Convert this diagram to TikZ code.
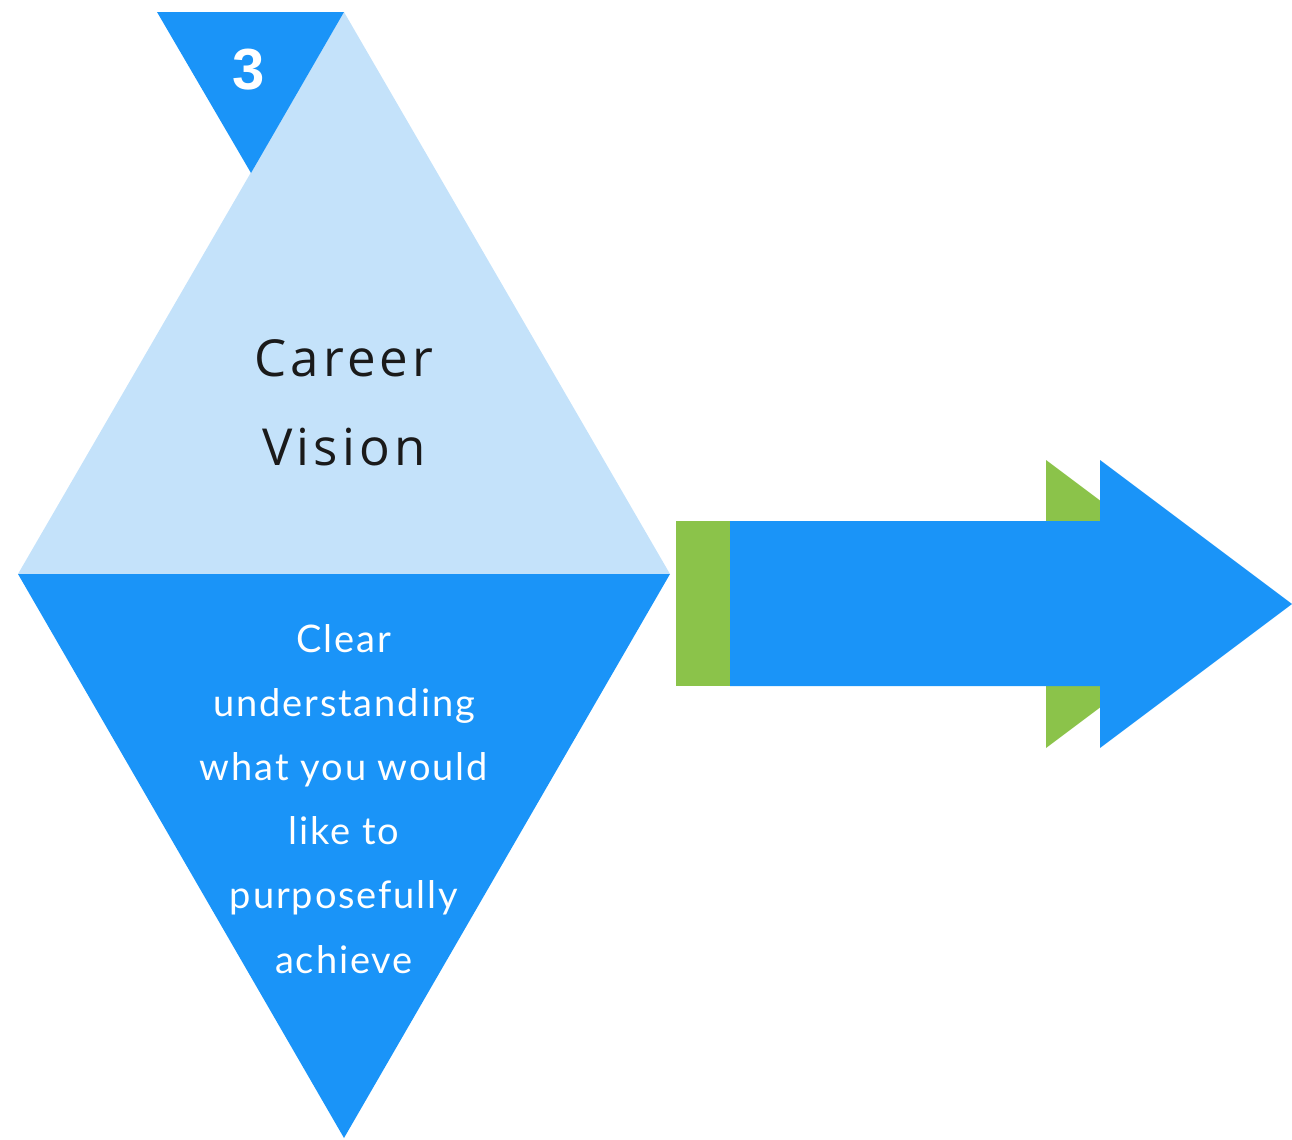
\documentclass[tikz,border=0pt]{standalone}
\usepackage{fontspec}
\setmainfont{Lato}
\newfontfamily\titlefont[LetterSpace=8]{Open Sans}
\newfontfamily\bodyfont[LetterSpace=5]{Lato}
\newfontfamily\numfont{Liberation Sans}
\definecolor{darkblue}{RGB}{26,148,248}
\definecolor{paleblue}{RGB}{196,226,250}
\definecolor{leafgreen}{RGB}{139,195,74}
\definecolor{inkgray}{RGB}{26,26,26}
\tikzset{>=stealth}
\tikzset{
  titletext/.style={inkgray, anchor=base, inner sep=0pt, font=\titlefont\fontsize{25.5}{25.5}\selectfont},
  bodytext/.style={white, anchor=base, inner sep=0pt, font=\bodyfont\fontsize{19}{19}\selectfont}
}

\begin{document}
\begin{tikzpicture}[x=0.5pt, y=-0.5pt]
    \useasboundingbox (0,0) rectangle (1292,1140);
    % diamond
    \fill[paleblue] (344,12) -- (670,574) -- (18,574) -- cycle;
    \fill[darkblue] (18,574) -- (670,574) -- (344,1138) -- cycle;
    \fill[darkblue] (157,12) -- (344,12) -- (251,173) -- cycle;
    \node[white, inner sep=0pt, anchor=base, font=\numfont\bfseries\fontsize{29}{29}\selectfont] (num) at (249,90) {3};
    % arrow
    \fill[leafgreen] (676,521) rectangle (1046,686);
    \fill[leafgreen] (1046,460) -- (1238,604) -- (1046,748) -- cycle;
    \fill[darkblue] (730,521) -- (1100,521) -- (1100,460) -- (1292,604)
        -- (1100,748) -- (1100,686) -- (730,686) -- cycle;
    % texts
    \node[titletext] (career) at (344,376) {Career};
    \node[titletext] (vision) at (344,465) {Vision};
    \foreach \txt [count=\i] in {Clear, understanding, what you would, like to, purposefully, achieve}
        \node[bodytext] (line\i) at (344,{652+64.2*(\i-1)}) {\txt};
\end{tikzpicture}
\end{document}
